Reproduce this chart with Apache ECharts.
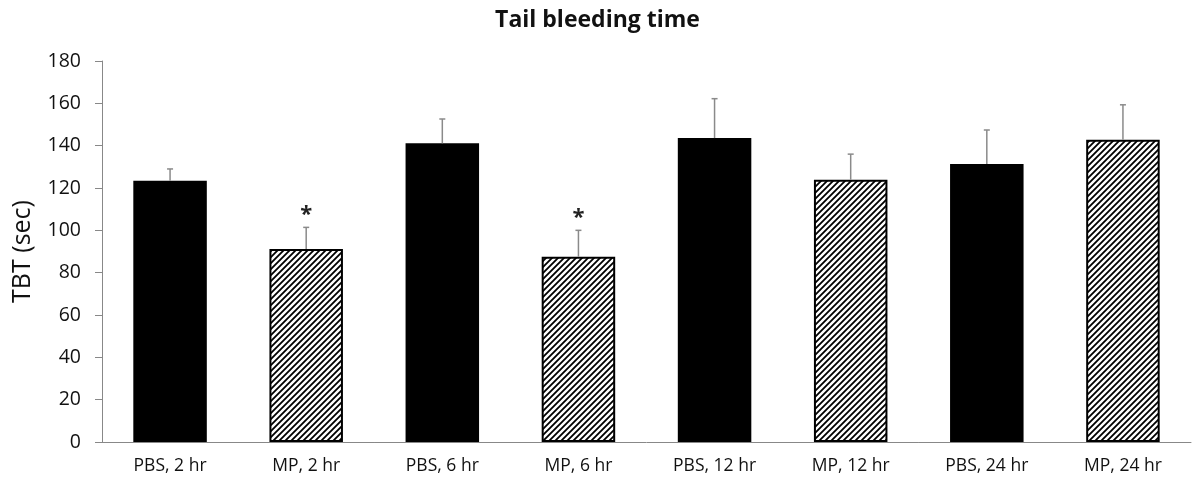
<!DOCTYPE html>
<html><head><meta charset="utf-8">
<script src="https://cdn.jsdelivr.net/npm/echarts@6/dist/echarts.min.js"></script>
<style>html,body{margin:0;padding:0;background:#fff}#c{width:1195px;height:489px}</style>
</head><body><div id="c"></div>
<script>
const categories = ['PBS, 2 hr','MP, 2 hr','PBS, 6 hr','MP, 6 hr','PBS, 12 hr','MP, 12 hr','PBS, 24 hr','MP, 24 hr'];
const means = [123.4, 91.2, 141.1, 87.5, 143.6, 123.9, 131.3, 142.8];
const errUp = [5.6, 10.2, 11.5, 12.5, 18.6, 12.1, 16.1, 16.5];
const hatched = [false, true, false, true, false, true, false, true];
const significant = [false, true, false, true, false, false, false, false];
const yTicks = [0,20,40,60,80,100,120,140,160,180];

const pc = document.createElement('canvas');
pc.width = 6; pc.height = 6;
const g = pc.getContext('2d');
g.fillStyle = '#fff'; g.fillRect(0,0,6,6);
g.strokeStyle = '#000'; g.lineWidth = 1.8;
g.beginPath();
g.moveTo(-1,7); g.lineTo(7,-1);
g.moveTo(-4,4); g.lineTo(4,-4);
g.moveTo(2,10); g.lineTo(10,2);
g.stroke();

const font = '"Open Sans", "Noto Sans", sans-serif';
const chart = echarts.init(document.getElementById('c'), null, {renderer:'canvas'});
chart.setOption({
  animation: false,
  backgroundColor: '#fff',
  title: {text: 'Tail bleeding time', left: 'center', top: 4, textStyle: {fontFamily: font, fontWeight: 'bold', fontSize: 23, color: '#111'}},
  grid: {left: 102, right: 4, top: 61, bottom: 47},
  xAxis: {type: 'category', data: categories,
    axisLine: {lineStyle: {color: '#888', width: 1}}, axisTick: {show: false},
    axisLabel: {fontFamily: font, fontSize: 17.5, color: '#111', margin: 15}},
  yAxis: {type: 'value', min: 0, max: 180, interval: 20,
    name: 'TBT (sec)', nameLocation: 'middle', nameGap: 67, nameRotate: 90,
    nameTextStyle: {fontFamily: font, fontSize: 25, color: '#111'},
    axisLine: {show: true, lineStyle: {color: '#888'}},
    axisTick: {show: true, length: 7, lineStyle: {color: '#888'}},
    splitLine: {show: false},
    axisLabel: {fontFamily: font, fontSize: 19.5, color: '#111', margin: 21,
      formatter: v => yTicks.includes(v) ? String(v) : ''}},
  series: [
    {type: 'bar', barWidth: '54%',
      data: means.map((v,i) => ({value: v, itemStyle: hatched[i]
        ? {color: {image: pc, repeat: 'repeat'}, borderColor: '#000', borderWidth: 2}
        : {color: '#000'}})),
      z: 2},
    {type: 'custom', z: 3,
      data: means.map((v,i) => [i, v, v + errUp[i], significant[i] ? 1 : 0]),
      renderItem: function(params, api) {
        const x = api.value(0);
        const p0 = api.coord([x, api.value(1)]);
        const p1 = api.coord([x, api.value(2)]);
        const children = [
          {type: 'line', shape: {x1: p0[0], y1: p0[1], x2: p1[0], y2: p1[1]}, style: {stroke: '#8a8a8a', lineWidth: 1.5}},
          {type: 'line', shape: {x1: p1[0]-3, y1: p1[1], x2: p1[0]+3, y2: p1[1]}, style: {stroke: '#8a8a8a', lineWidth: 1.5}}
        ];
        if (api.value(3)) {
          children.push({type: 'text', style: {x: p1[0], y: p1[1] - 2, text: '*', textAlign: 'center', textVerticalAlign: 'bottom', font: 'bold 22px ' + font, fill: '#222'}});
        }
        return {type: 'group', children};
      }}
  ]
});
</script></body></html>
